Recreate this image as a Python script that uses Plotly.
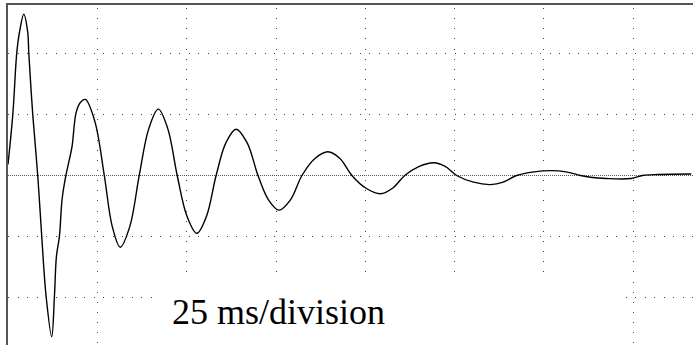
import plotly.graph_objects as go

# Time in ms (25 ms per division), amplitude in vertical divisions
time_ms = [0, 1.34, 2.46, 3.2, 4.41, 5.53, 5.81, 6.93, 8.32, 9.44, 10.67, 12.23, 12.99,
           13.55, 14.39, 15.14, 16.2, 16.98, 17.93, 19.05, 20.25, 21.65, 24.3, 26.95,
           29.19, 31.42, 34.08, 36.73, 39.4, 42.07, 44.71, 47.35,
           50.1, 52.85, 55.55, 58.24, 61.0, 63.83, 66.9, 69.97,
           72.9, 75.83, 79.05, 82.26, 85.9, 89.53, 92.9, 96.23,
           100.2, 104.24, 107.6, 111.03, 115.1, 119.14, 122.35, 125.56,
           130.3, 134.97, 138.6, 142.32, 147.2, 152.10, 156.15, 160.20,
           163.0, 167.44, 174.42, 177.57, 181.98, 191.21]
amplitude_div = [0.18, 1.0, 2.02, 2.35, 2.65, 2.35, 2.02, 1.0, 0, -1.0, -1.99, -2.65, -1.99,
                 -1.33, -1.0, -0.39, 0, 0.21, 0.48, 1.03, 1.2, 1.25, 0.89, 0,
                 -0.84, -1.18, -0.84, 0, 0.77, 1.09, 0.77, 0,
                 -0.67, -0.95, -0.67, 0, 0.54, 0.76, 0.54, 0,
                 -0.40, -0.57, -0.40, 0, 0.28, 0.39, 0.28, 0,
                 -0.21, -0.30, -0.21, 0, 0.15, 0.21, 0.15, 0,
                 -0.11, -0.15, -0.11, 0, 0.06, 0.08, 0.06, 0,
                 -0.03, -0.05, -0.05, 0, 0.016, 0.025]
x_grid = [25, 50, 75, 100, 125, 150, 175]
y_grid = [-2, -1, 1, 2]
label_text = "25 ms/division"

X_RANGE = [0, 191.7]
Y_RANGE = [-2.786, 2.802]

fig = go.Figure()
fig.add_trace(go.Scatter(
    x=time_ms, y=amplitude_div, mode="lines",
    line=dict(color="black", width=1.4, shape="spline", smoothing=1.0),
    hoverinfo="skip", showlegend=False,
))

# dense dotted centre line
fig.add_shape(type="line", xref="x", yref="y", x0=X_RANGE[0], x1=X_RANGE[1], y0=0, y1=0,
              line=dict(color="#555555", width=1, dash="1px,1px"), layer="between")
# white box behind the label hiding the grid
fig.add_shape(type="rect", xref="x", yref="y", x0=40.3, x1=171.3, y0=Y_RANGE[0] - 0.1, y1=-1.668,
              fillcolor="white", line=dict(width=0), layer="between")

fig.add_annotation(x=45.4, y=-2.243, xref="x", yref="y", text=label_text, showarrow=False,
                   xanchor="left", yanchor="middle",
                   font=dict(family="Liberation Serif", size=36, color="black"))

fig.update_xaxes(range=X_RANGE, tickvals=x_grid, showticklabels=False, ticks="",
                 showgrid=True, gridcolor="#444444", gridwidth=1, griddash="0px,3px,1px,6.13px",
                 zeroline=False, showline=True, linecolor="#555555", linewidth=2, side="top")
fig.update_yaxes(range=Y_RANGE, tickvals=y_grid, showticklabels=False, ticks="",
                 showgrid=True, gridcolor="#444444", gridwidth=1, griddash="1px,8.5px",
                 zeroline=False, showline=True, linecolor="#555555", linewidth=2)

fig.update_layout(width=693, height=345, margin=dict(l=8, r=0, t=5, b=0),
                  paper_bgcolor="white", plot_bgcolor="white")

fig.write_html("out.html", config={"displayModeBar": False},
               post_script="document.body.style.margin='0';")
